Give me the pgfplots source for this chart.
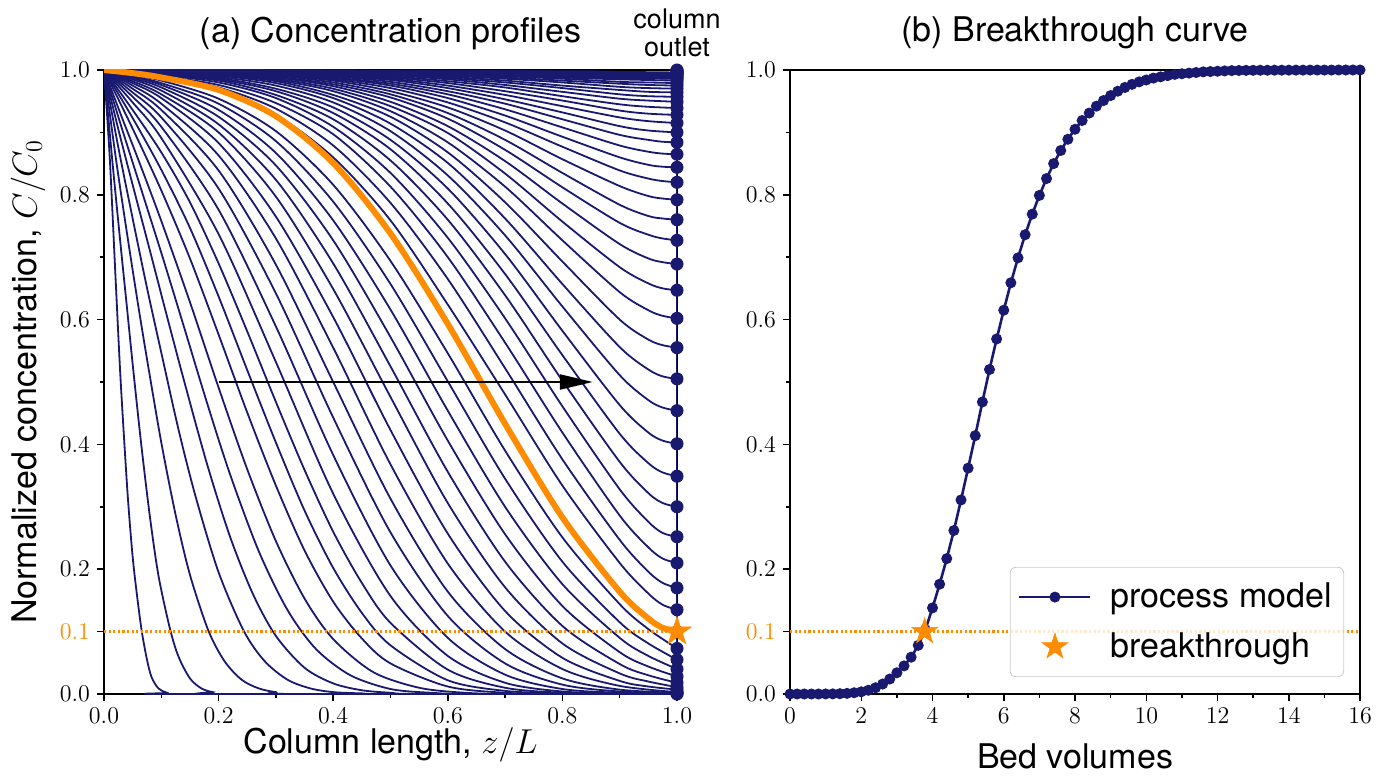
\documentclass[border=0pt]{standalone}
\usepackage{fontspec}
\setmainfont{TeX Gyre Heros}
\usepackage{pgfplots}
\pgfplotsset{compat=1.18}
\usetikzlibrary{arrows.meta}

\definecolor{navy}{RGB}{25,25,112}
\definecolor{dorange}{RGB}{255,140,0}

% filled five-pointed star, like matplotlib's '*'
\pgfdeclareplotmark{fstar}{%
  \pgfpathmoveto{\pgfpointpolar{90}{\pgfplotmarksize}}%
  \pgfpathlineto{\pgfpointpolar{126}{0.382*\pgfplotmarksize}}%
  \pgfpathlineto{\pgfpointpolar{162}{\pgfplotmarksize}}%
  \pgfpathlineto{\pgfpointpolar{198}{0.382*\pgfplotmarksize}}%
  \pgfpathlineto{\pgfpointpolar{234}{\pgfplotmarksize}}%
  \pgfpathlineto{\pgfpointpolar{270}{0.382*\pgfplotmarksize}}%
  \pgfpathlineto{\pgfpointpolar{306}{\pgfplotmarksize}}%
  \pgfpathlineto{\pgfpointpolar{342}{0.382*\pgfplotmarksize}}%
  \pgfpathlineto{\pgfpointpolar{18}{\pgfplotmarksize}}%
  \pgfpathlineto{\pgfpointpolar{54}{0.382*\pgfplotmarksize}}%
  \pgfpathclose\pgfusepathqfillstroke}

\newcommand{\lbl}{\fontsize{17}{20.4}\selectfont}

\pgfplotsset{
  onedec/.style={/pgf/number format/fixed, /pgf/number format/fixed zerofill, /pgf/number format/precision=1},
  panel/.style={
    scale only axis, width=286.5pt, height=312pt,
    ymin=0, ymax=1,
    axis line style={line width=0.75pt},
    every tick/.style={black, line width=0.75pt},
    tick align=outside, major tick length=3.5pt, minor tick length=2pt,
    xtick pos=bottom, ytick pos=left,
    ytick={0,0.2,0.4,0.6,0.8,1}, minor ytick={0.1,0.3,0.5,0.7,0.9},
    yticklabel style={onedec},
    extra y ticks={0.1},
    extra y tick style={yticklabel style={/tikz/text=dorange}},
    tick label style={font=\fontsize{11.7}{13}\selectfont},
    title style={at={(axis description cs:0.5,1.04)}, anchor=center, font=\lbl},
    xlabel style={anchor=center, font=\lbl},
    ylabel style={anchor=center, font=\lbl},
  },
  prof/.style={navy, line width=0.9pt, smooth, mark=none},
  bthresh/.style={color=dorange, line width=1.1pt, dash pattern=on 1.1pt off 1.2pt, mark=none},
  longline legend/.style={legend image code/.code={\draw[mark repeat=2,mark phase=2,##1] plot coordinates {(0pt,0pt) (17.75pt,0pt) (35.5pt,0pt)}; \path (43pt,0pt);}},
  centremark legend/.style={legend image code/.code={\draw[##1] plot coordinates {(17.75pt,0pt)}; \path (0pt,0pt) (43pt,0pt);}},
}

\begin{document}
\begin{tikzpicture}
\path[use as bounding box] (-52pt,-43.5pt) rectangle (643.5pt,347pt);

% ---------------- (a) concentration profiles ----------------
\begin{axis}[panel, name=left, at={(0,0)}, anchor=south west,
  xmin=0, xmax=1,
  xtick={0,0.2,0.4,0.6,0.8,1}, minor xtick={0.1,0.3,0.5,0.7,0.9},
  xticklabel style={onedec},
  xlabel={Column length, $z/L$},
  ylabel={Normalized concentration, $C/C_0$},
  xlabel style={at={(axis description cs:0.5,-0.082)}},
  ylabel style={at={(axis description cs:-0.1326,0.5)}},
  title={(a) Concentration profiles}]

\addplot[prof] coordinates {(0,1) (0.01,0.86) (0.02,0.67) (0.028,0.52) (0.035,0.41) (0.042,0.31) (0.05,0.22) (0.058,0.155) (0.066,0.10) (0.075,0.055) (0.083,0.027) (0.095,0.009) (0.11,0.002) (0.13,0) (1,0)};
\addplot[prof] coordinates {(0,1) (0.015,0.85) (0.03,0.71) (0.04,0.62) (0.051,0.52) (0.065,0.40) (0.08,0.285) (0.095,0.19) (0.115,0.105) (0.13,0.06) (0.15,0.025) (0.17,0.009) (0.19,0.003) (0.22,0) (1,0)};
\addplot[prof] coordinates {(0,1) (0.02,0.863) (0.04,0.739) (0.06,0.621) (0.077,0.526) (0.1,0.403) (0.125,0.287) (0.15,0.191) (0.182,0.102) (0.21,0.053) (0.24,0.023) (0.27,0.009) (0.3,0.003) (0.34,0) (1,0)};
\addplot[prof] coordinates {(0,1) (0.025,0.876) (0.05,0.762) (0.075,0.651) (0.1,0.547) (0.13,0.424) (0.16,0.316) (0.2,0.195) (0.244,0.101) (0.28,0.053) (0.32,0.023) (0.36,0.009) (0.4,0.003) (0.45,0.001) (0.5,0) (1,0)};
\addplot[prof] coordinates {(0,1) (0.025,0.905) (0.05,0.816) (0.08,0.711) (0.11,0.605) (0.14,0.501) (0.18,0.368) (0.22,0.252) (0.26,0.160) (0.3,0.093) (0.35,0.042) (0.4,0.017) (0.45,0.006) (0.5,0.002) (0.56,0) (1,0)};
\addplot[prof] coordinates {(0,1) (0.03,0.910) (0.06,0.823) (0.1,0.707) (0.14,0.587) (0.18,0.466) (0.22,0.352) (0.27,0.229) (0.32,0.135) (0.37,0.072) (0.43,0.030) (0.5,0.008) (0.57,0.002) (0.65,0) (1,0)};
\addplot[prof] coordinates {(0,1) (0.03,0.927) (0.06,0.856) (0.1,0.758) (0.15,0.628) (0.2,0.491) (0.25,0.360) (0.3,0.245) (0.35,0.153) (0.4,0.088) (0.47,0.035) (0.55,0.010) (0.63,0.002) (0.72,0) (1,0)};
\addplot[prof] coordinates {(0,1) (0.05,0.906) (0.1,0.807) (0.15,0.698) (0.2,0.576) (0.25,0.451) (0.3,0.334) (0.35,0.230) (0.4,0.148) (0.45,0.089) (0.5,0.049) (0.6,0.012) (0.7,0.002) (0.8,0) (1,0)};
\addplot[prof] coordinates {(0,1) (0.05,0.923) (0.1,0.840) (0.15,0.747) (0.2,0.637) (0.25,0.519) (0.3,0.403) (0.35,0.294) (0.4,0.202) (0.45,0.130) (0.5,0.078) (0.6,0.022) (0.7,0.005) (0.8,0.001) (0.9,0) (1,0)};
\addplot[prof] coordinates {(0,1) (0.05,0.936) (0.1,0.868) (0.15,0.788) (0.2,0.690) (0.25,0.581) (0.3,0.468) (0.35,0.359) (0.4,0.260) (0.45,0.178) (0.5,0.114) (0.6,0.039) (0.7,0.010) (0.8,0.002) (0.9,0) (1,0)};
\addplot[prof] coordinates {(0,1) (0.05,0.948) (0.1,0.891) (0.2,0.737) (0.3,0.532) (0.4,0.321) (0.5,0.157) (0.6,0.061) (0.7,0.018) (0.8,0.004) (0.9,0.001) (1,0)};
\addplot[prof] coordinates {(0,1) (0.05,0.957) (0.1,0.909) (0.2,0.776) (0.3,0.589) (0.4,0.383) (0.5,0.206) (0.6,0.090) (0.7,0.031) (0.8,0.008) (0.9,0.002) (1,0)};
\addplot[prof] coordinates {(0,1) (0.05,0.964) (0.1,0.924) (0.2,0.810) (0.3,0.642) (0.4,0.443) (0.5,0.259) (0.6,0.125) (0.7,0.049) (0.8,0.015) (0.9,0.004) (1,0.001)};
\addplot[prof] coordinates {(0,1) (0.05,0.970) (0.1,0.936) (0.2,0.839) (0.3,0.688) (0.4,0.500) (0.5,0.313) (0.6,0.164) (0.7,0.072) (0.8,0.025) (0.9,0.007) (1,0.002)};
\addplot[prof] coordinates {(0,1) (0.05,0.975) (0.1,0.946) (0.2,0.863) (0.3,0.730) (0.4,0.555) (0.5,0.368) (0.6,0.209) (0.7,0.100) (0.8,0.040) (0.9,0.013) (1,0.003)};
\addplot[prof] coordinates {(0,1) (0.05,0.979) (0.1,0.955) (0.2,0.883) (0.3,0.765) (0.4,0.604) (0.5,0.423) (0.6,0.257) (0.7,0.133) (0.8,0.058) (0.9,0.021) (0.95,0.012) (1,0.007)};
\addplot[prof] coordinates {(0,1) (0.05,0.982) (0.1,0.961) (0.2,0.900) (0.3,0.797) (0.4,0.649) (0.5,0.476) (0.6,0.306) (0.7,0.171) (0.8,0.081) (0.9,0.033) (0.95,0.020) (1,0.011)};
\addplot[prof] coordinates {(0,1) (0.05,0.985) (0.1,0.967) (0.2,0.913) (0.3,0.824) (0.4,0.690) (0.5,0.525) (0.6,0.356) (0.7,0.212) (0.8,0.109) (0.9,0.048) (0.95,0.030) (1,0.018)};
\addplot[prof] coordinates {(0,1) (0.05,0.987) (0.1,0.972) (0.2,0.925) (0.3,0.847) (0.4,0.727) (0.5,0.572) (0.6,0.406) (0.7,0.256) (0.8,0.141) (0.9,0.067) (0.95,0.044) (1,0.028)};
\addplot[prof] coordinates {(0,1) (0.05,0.989) (0.1,0.976) (0.2,0.936) (0.3,0.867) (0.4,0.759) (0.5,0.616) (0.6,0.454) (0.7,0.300) (0.8,0.176) (0.9,0.090) (0.95,0.061) (1,0.040)};
\addplot[prof] coordinates {(0,1) (0.05,0.990) (0.1,0.979) (0.2,0.946) (0.3,0.886) (0.4,0.789) (0.5,0.657) (0.6,0.501) (0.7,0.345) (0.8,0.212) (0.9,0.115) (0.95,0.081) (1,0.055)};
\addplot[prof] coordinates {(0,1) (0.05,0.992) (0.1,0.983) (0.2,0.954) (0.3,0.902) (0.4,0.816) (0.5,0.694) (0.6,0.546) (0.7,0.390) (0.8,0.251) (0.9,0.144) (0.95,0.104) (1,0.073)};
\addplot[prof] coordinates {(0,1) (0.1,0.987) (0.2,0.967) (0.3,0.928) (0.4,0.860) (0.5,0.759) (0.6,0.624) (0.7,0.480) (0.8,0.334) (0.9,0.210) (0.95,0.161) (0.975,0.143) (1,0.135)};
\addplot[prof] coordinates {(0,1) (0.1,0.989) (0.2,0.972) (0.3,0.938) (0.4,0.879) (0.5,0.787) (0.6,0.665) (0.7,0.522) (0.8,0.376) (0.9,0.247) (0.95,0.196) (0.975,0.178) (1,0.170)};
\addplot[prof] coordinates {(0,1) (0.1,0.990) (0.2,0.976) (0.3,0.947) (0.4,0.897) (0.5,0.813) (0.6,0.700) (0.7,0.563) (0.8,0.419) (0.9,0.286) (0.95,0.235) (0.975,0.217) (1,0.210)};
\addplot[prof] coordinates {(0,1) (0.1,0.992) (0.2,0.980) (0.3,0.955) (0.4,0.909) (0.5,0.835) (0.6,0.731) (0.7,0.602) (0.8,0.461) (0.9,0.328) (0.95,0.276) (0.975,0.258) (1,0.252)};
\addplot[prof] coordinates {(0,1) (0.1,0.993) (0.2,0.983) (0.3,0.960) (0.4,0.921) (0.5,0.855) (0.6,0.760) (0.7,0.639) (0.8,0.502) (0.9,0.372) (0.95,0.322) (0.975,0.306) (1,0.300)};
\addplot[prof] coordinates {(0,1) (0.1,0.994) (0.2,0.985) (0.3,0.966) (0.4,0.931) (0.5,0.873) (0.6,0.786) (0.7,0.673) (0.8,0.543) (0.9,0.417) (0.95,0.370) (0.975,0.355) (1,0.349)};
\addplot[prof] coordinates {(0,1) (0.1,0.995) (0.2,0.987) (0.3,0.970) (0.4,0.940) (0.5,0.888) (0.6,0.810) (0.7,0.705) (0.8,0.582) (0.9,0.463) (0.95,0.419) (0.975,0.406) (1,0.401)};
\addplot[prof] coordinates {(0,1) (0.1,0.996) (0.2,0.989) (0.3,0.975) (0.4,0.948) (0.5,0.902) (0.6,0.831) (0.7,0.735) (0.8,0.621) (0.9,0.511) (0.95,0.471) (0.975,0.459) (1,0.454)};
\addplot[prof] coordinates {(0,1) (0.1,0.996) (0.2,0.991) (0.3,0.979) (0.4,0.955) (0.5,0.914) (0.6,0.851) (0.7,0.762) (0.8,0.657) (0.9,0.556) (0.95,0.520) (0.975,0.509) (1,0.505)};
\addplot[prof] coordinates {(0,1) (0.1,0.997) (0.2,0.992) (0.3,0.982) (0.4,0.960) (0.5,0.925) (0.6,0.868) (0.7,0.788) (0.8,0.693) (0.9,0.600) (0.95,0.568) (0.975,0.559) (1,0.555)};
\addplot[prof] coordinates {(0,1) (0.1,0.997) (0.2,0.993) (0.3,0.984) (0.4,0.966) (0.5,0.934) (0.6,0.884) (0.7,0.813) (0.8,0.727) (0.9,0.644) (0.95,0.615) (0.975,0.606) (1,0.602)};
\addplot[prof] coordinates {(0,1) (0.1,0.998) (0.2,0.994) (0.3,0.986) (0.4,0.970) (0.5,0.942) (0.6,0.899) (0.7,0.834) (0.8,0.757) (0.9,0.684) (0.95,0.658) (0.975,0.650) (1,0.647)};
\addplot[prof] coordinates {(0,1) (0.1,0.998) (0.2,0.995) (0.3,0.988) (0.4,0.974) (0.5,0.949) (0.6,0.910) (0.7,0.854) (0.8,0.786) (0.9,0.721) (0.95,0.698) (0.975,0.692) (1,0.689)};
\addplot[prof] coordinates {(0,1) (0.1,0.998) (0.2,0.995) (0.3,0.989) (0.4,0.977) (0.5,0.956) (0.6,0.922) (0.7,0.872) (0.8,0.812) (0.9,0.755) (0.95,0.736) (0.975,0.730) (1,0.727)};
\addplot[prof] coordinates {(0,1) (0.1,0.998) (0.2,0.996) (0.3,0.991) (0.4,0.980) (0.5,0.961) (0.6,0.931) (0.7,0.888) (0.8,0.835) (0.9,0.784) (0.95,0.766) (0.975,0.762) (1,0.760)};
\addplot[prof] coordinates {(0,1) (0.1,0.999) (0.2,0.997) (0.3,0.992) (0.4,0.983) (0.5,0.966) (0.6,0.940) (0.7,0.903) (0.8,0.857) (0.9,0.814) (0.95,0.798) (0.975,0.794) (1,0.792)};
\addplot[prof] coordinates {(0,1) (0.2,0.997) (0.3,0.993) (0.4,0.985) (0.5,0.971) (0.6,0.948) (0.7,0.916) (0.8,0.877) (0.9,0.839) (0.95,0.826) (0.975,0.822) (1,0.820)};
\addplot[prof] coordinates {(0,1) (0.2,0.997) (0.3,0.994) (0.4,0.987) (0.5,0.975) (0.6,0.955) (0.7,0.927) (0.8,0.893) (0.9,0.860) (0.95,0.848) (0.975,0.845) (1,0.844)};
\addplot[prof] coordinates {(0,1) (0.2,0.998) (0.3,0.995) (0.4,0.988) (0.5,0.978) (0.6,0.961) (0.7,0.937) (0.8,0.908) (0.9,0.879) (0.95,0.869) (0.975,0.866) (1,0.865)};
\addplot[prof] coordinates {(0,1) (0.2,0.998) (0.3,0.995) (0.4,0.990) (0.5,0.981) (0.6,0.966) (0.7,0.946) (0.8,0.921) (0.9,0.896) (0.95,0.888) (0.975,0.885) (1,0.884)};
\addplot[prof] coordinates {(0,1) (0.2,0.998) (0.3,0.996) (0.4,0.991) (0.5,0.984) (0.6,0.971) (0.7,0.953) (0.8,0.932) (0.9,0.910) (0.95,0.903) (1,0.900)};
\addplot[prof] coordinates {(0,1) (0.2,0.999) (0.3,0.996) (0.4,0.993) (0.5,0.986) (0.6,0.975) (0.7,0.960) (0.8,0.942) (0.9,0.924) (0.95,0.918) (1,0.915)};
\addplot[prof] coordinates {(0,1) (0.2,0.999) (0.3,0.997) (0.4,0.994) (0.5,0.988) (0.6,0.979) (0.7,0.966) (0.8,0.951) (0.9,0.935) (0.95,0.930) (1,0.928)};
\addplot[prof] coordinates {(0,1) (0.2,0.999) (0.3,0.997) (0.4,0.995) (0.5,0.990) (0.6,0.982) (0.7,0.972) (0.8,0.958) (0.9,0.945) (0.95,0.941) (1,0.939)};
\addplot[prof] coordinates {(0,1) (0.3,0.998) (0.4,0.996) (0.5,0.992) (0.6,0.985) (0.7,0.976) (0.8,0.965) (0.9,0.954) (0.95,0.951) (1,0.949)};
\addplot[prof] coordinates {(0,1) (0.3,0.998) (0.4,0.996) (0.5,0.993) (0.6,0.987) (0.7,0.980) (0.8,0.971) (0.9,0.961) (0.95,0.958) (1,0.957)};
\addplot[prof] coordinates {(0,1) (0.3,0.998) (0.4,0.997) (0.5,0.994) (0.6,0.989) (0.7,0.983) (0.8,0.975) (0.9,0.968) (0.95,0.965) (1,0.964)};
\addplot[prof] coordinates {(0,1) (0.4,0.997) (0.5,0.995) (0.6,0.991) (0.7,0.986) (0.8,0.980) (0.9,0.973) (0.95,0.971) (1,0.970)};
\addplot[prof] coordinates {(0,1) (0.4,0.998) (0.5,0.996) (0.6,0.993) (0.7,0.988) (0.8,0.983) (0.9,0.978) (0.95,0.976) (1,0.975)};
\addplot[prof] coordinates {(0,1) (0.4,0.998) (0.5,0.997) (0.6,0.994) (0.7,0.990) (0.8,0.986) (0.9,0.981) (0.95,0.980) (1,0.979)};
\addplot[prof] coordinates {(0,1) (0.5,0.997) (0.6,0.995) (0.7,0.992) (0.8,0.988) (0.9,0.985) (1,0.983)};
\addplot[prof] coordinates {(0,1) (0.5,0.998) (0.6,0.996) (0.7,0.993) (0.8,0.990) (0.9,0.987) (1,0.986)};
\addplot[prof] coordinates {(0,1) (0.5,0.998) (0.6,0.996) (0.7,0.994) (0.8,0.992) (0.9,0.989) (1,0.988)};
\addplot[prof] coordinates {(0,1) (0.5,0.998) (0.6,0.997) (0.7,0.995) (0.8,0.993) (0.9,0.991) (1,0.990)};
\addplot[prof] coordinates {(0,1) (0.6,0.998) (0.7,0.996) (0.8,0.995) (0.9,0.993) (1,0.992)};
\addplot[prof] coordinates {(0,1) (0.6,0.998) (0.7,0.997) (0.8,0.995) (0.9,0.994) (1,0.993)};
\addplot[prof] coordinates {(0,1) (0.7,0.997) (0.8,0.996) (0.9,0.995) (1,0.994)};
\addplot[prof] coordinates {(0,1) (0.7,0.998) (0.8,0.997) (0.9,0.996) (1,0.995)};
\addplot[prof] coordinates {(0,1) (0.8,0.998) (0.9,0.997) (1,0.996)};

% profile at breakthrough
\addplot[dorange, line width=3pt, smooth, mark=none] coordinates {(0,1) (0.05,0.995) (0.1,0.988) (0.2,0.968) (0.3,0.926) (0.4,0.851) (0.5,0.738) (0.6,0.593) (0.7,0.433) (0.8,0.283) (0.9,0.164) (0.95,0.121) (0.975,0.106) (1,0.100)};

\addplot[bthresh] coordinates {(0,0.1) (1,0.1)};

\draw[line width=1.2pt, -{Triangle[length=16.5pt,width=7.5pt]}] (axis cs:0.2,0.5) -- (axis cs:0.853,0.5);

% outlet concentrations
\addplot[navy, line width=1pt, mark=*, mark size=3pt, mark options={line width=0.5pt}] coordinates {(1,0) (1,0.001) (1,0.002) (1,0.003) (1,0.007) (1,0.011) (1,0.018) (1,0.028) (1,0.040) (1,0.055) (1,0.073) (1,0.100) (1,0.135) (1,0.170) (1,0.210) (1,0.252) (1,0.300) (1,0.349) (1,0.401) (1,0.454) (1,0.505) (1,0.555) (1,0.602) (1,0.647) (1,0.689) (1,0.727) (1,0.760) (1,0.792) (1,0.820) (1,0.844) (1,0.865) (1,0.884) (1,0.900) (1,0.915) (1,0.928) (1,0.939) (1,0.949) (1,0.957) (1,0.964) (1,0.970) (1,0.975) (1,0.979) (1,0.983) (1,0.986) (1,0.988) (1,0.990) (1,0.992) (1,0.993) (1,0.994) (1,0.995) (1,0.996) (1,0.997) (1,0.998) (1,0.999) (1,1)};

\addplot[only marks, mark=fstar, mark size=7.5pt, dorange, mark options={line width=0.3pt}] coordinates {(1,0.1)};
\end{axis}
\node[anchor=south, align=center, inner sep=0pt, font=\fontsize{13.5}{14}\selectfont] at ([yshift=6.5pt]left.north east) {column\\outlet};

% ---------------- (b) breakthrough curve ----------------
\begin{axis}[panel, at={(343pt,0)}, anchor=south west, width=285pt,
  xmin=0, xmax=16,
  xtick={0,2,4,6,8,10,12,14,16}, minor xtick={1,3,5,7,9,11,13,15},
  xlabel={Bed volumes},
  xlabel style={at={(axis description cs:0.5,-0.1)}},
  title={(b) Breakthrough curve},
  legend cell align=left,
  legend image post style={fill opacity=1, draw opacity=1},
  legend style={at={(axis description cs:0.972,0.027)}, anchor=south east,
    font=\lbl, draw=black!20, rounded corners=3pt, fill=white,
    fill opacity=0.8, draw opacity=1, text opacity=1, inner xsep=4pt, inner ysep=6pt,
    row sep=7pt}]

\addplot[bthresh, forget plot] coordinates {(0,0.1) (16,0.1)};

\addplot[navy, line width=1.3pt, mark=*, mark size=2.5pt, mark options={line width=0.5pt}, longline legend]
  coordinates {
  (0,0) (0.2,0) (0.4,0) (0.6,0) (0.8,0) (1.0,0.0001) (1.2,0.0002) (1.4,0.0005)
  (1.6,0.001) (1.8,0.002) (2.0,0.0035) (2.2,0.006) (2.4,0.010) (2.6,0.016)
  (2.8,0.024) (3.0,0.034) (3.2,0.045) (3.4,0.059) (3.6,0.078) (3.8,0.103)
  (4.0,0.138) (4.2,0.176) (4.4,0.217) (4.6,0.262) (4.8,0.311) (5.0,0.362)
  (5.2,0.414) (5.4,0.468) (5.6,0.520) (5.8,0.569) (6.0,0.615) (6.2,0.659)
  (6.4,0.699) (6.6,0.736) (6.8,0.769) (7.0,0.799) (7.2,0.826) (7.4,0.850)
  (7.6,0.871) (7.8,0.889) (8.0,0.905) (8.2,0.919) (8.4,0.931) (8.6,0.942)
  (8.8,0.951) (9.0,0.959) (9.2,0.966) (9.4,0.972) (9.6,0.977) (9.8,0.981)
  (10.0,0.984) (10.2,0.987) (10.4,0.989) (10.6,0.991) (10.8,0.993) (11.0,0.994)
  (11.2,0.995) (11.4,0.996) (11.6,0.997) (11.8,0.9975) (12.0,0.998) (12.2,0.9985)
  (12.4,0.999) (12.6,0.9992) (12.8,0.9994) (13.0,0.9995) (13.2,0.9996) (13.4,0.9996)
  (13.6,0.9997) (13.8,0.9997) (14.0,0.9998) (14.2,0.9998) (14.4,0.9998) (14.6,0.9999)
  (14.8,0.9999) (15.0,0.9999) (15.2,0.9999) (15.4,1) (15.6,1) (15.8,1) (16.0,1)};
\addlegendentry{process model}

\addplot[only marks, mark=fstar, mark size=6.8pt, dorange, mark options={line width=0.3pt}, centremark legend]
  coordinates {(3.78,0.1)};
\addlegendentry{breakthrough}
\end{axis}
\end{tikzpicture}
\end{document}
